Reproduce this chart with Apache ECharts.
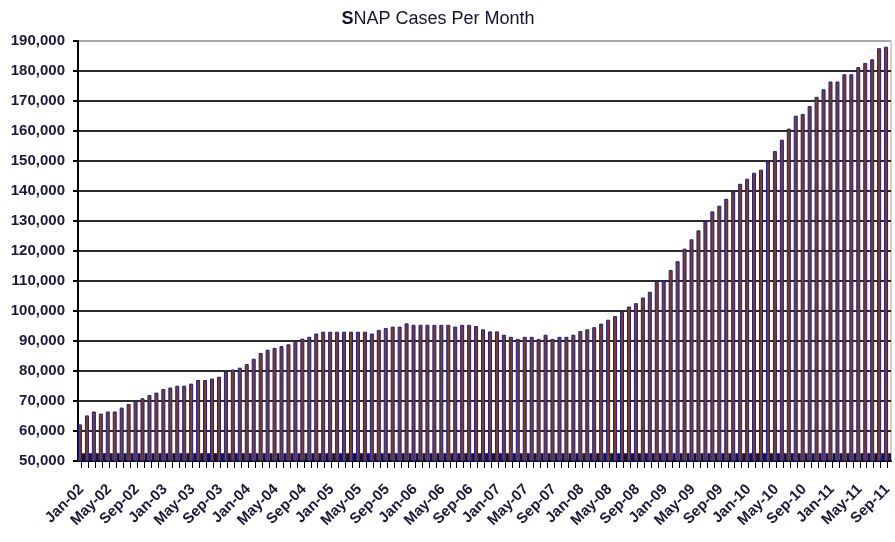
<!DOCTYPE html>
<html>
<head>
<meta charset="utf-8">
<script src="https://cdn.jsdelivr.net/npm/echarts@6/dist/echarts.min.js"></script>
<style>
  html, body { margin: 0; padding: 0; background: #fff; }
  #snapChart { width: 895px; height: 542px; }
</style>
</head>
<body>
<div id="snapChart"></div>
<script>
// month labels Jan-02 .. Sep-11
var monthNames = ["Jan", "Feb", "Mar", "Apr", "May", "Jun", "Jul", "Aug", "Sep", "Oct", "Nov", "Dec"];
var yearLabels = ["02", "03", "04", "05", "06", "07", "08", "09", "10", "11"];

// SNAP cases
var snapCases = [
  62200, 65200, 66500, 65800, 66500, 66500, 67800, 69000, 69900, 70900, 72000, 72800, // 2002
  74000, 74500, 75100, 75100, 75800, 77000, 77000, 77500, 78100, 79900, 80500, 81100, // 2003
  82300, 84100, 86000, 87100, 87700, 88300, 88900, 90000, 90800, 91400, 92500, 93100, // 2004
  93100, 93100, 93100, 93100, 93100, 93100, 92500, 93700, 94300, 94800, 94800, 95900, // 2005
  95400, 95400, 95400, 95400, 95400, 95400, 94800, 95400, 95400, 95000, 93900, 93200, // 2006
  93200, 92100, 91400, 90700, 91400, 91400, 90700, 92100, 90700, 91400, 91400, 92100, // 2007
  93300, 93900, 94600, 95800, 97100, 98300, 99700, 101500, 102600, 104500, 106400, 109900, // 2008
  109900, 113700, 116600, 120800, 123900, 126900, 129900, 133200, 135100, 137400, 139900, 142400, // 2009
  144100, 146100, 147100, 149900, 153300, 157100, 160800, 165100, 165700, 168300, 171400, 173900, // 2010
  176500, 176500, 178900, 178900, 181300, 182700, 183900, 187600, 188100 // 2011
];

// the short dark stubs standing next to each bar at the base
var baseStubs = [
  52600, 52600, 52600, 52600, 52600, 52600, 52600, 52600, 52600, 52600, 52600, 52600,
  52600, 52600, 52600, 52600, 52600, 52600, 52600, 52600, 52600, 52600, 52600, 52600,
  52600, 52600, 52600, 52600, 52600, 52600, 52600, 52600, 52600, 52600, 52600, 52600,
  52600, 52600, 52600, 52600, 52600, 52600, 52600, 52600, 52600, 52600, 52600, 52600,
  52600, 52600, 52600, 52600, 52600, 52600, 52600, 52600, 52600, 52600, 52600, 52600,
  52600, 52600, 52600, 52600, 52600, 52600, 52600, 52600, 52600, 52600, 52600, 52600,
  52600, 52600, 52600, 52600, 52600, 52600, 52600, 52600, 52600, 52600, 52600, 52600,
  52600, 52600, 52600, 52600, 52600, 52600, 52600, 52600, 52600, 52600, 52600, 52600,
  52600, 52600, 52600, 52600, 52600, 52600, 52600, 52600, 52600, 52600, 52600, 52600,
  52600, 52600, 52600, 52600, 52600, 52600, 52600, 52600, 52600
];

var yMin = 50000;
var yMax = 190000;
var yStep = 10000;

var categories = [];
for (var y = 0; y < yearLabels.length; y++) {
  for (var m = 0; m < 12; m++) {
    if (categories.length < snapCases.length) {
      categories.push(monthNames[m] + "-" + yearLabels[y]);
    }
  }
}

var labelFont = '"Liberation Sans", Arial, sans-serif';

// grid line colours: dark lines, top one is the light plot border
var gridColors = [];
for (var g = yMin; g <= yMax; g += yStep) {
  gridColors.push(g === yMax ? "#a8a8a8" : "#2b2b2b");
}

var snapChart = echarts.init(document.getElementById("snapChart"));
var option = {
  backgroundColor: "#ffffff",
  animation: false,
  title: {
    text: "{b|S}NAP Cases Per Month",
    left: 433,
    top: 5,
    textAlign: "center",
    textStyle: {
      fontFamily: labelFont,
      fontSize: 18,
      fontWeight: "normal",
      color: "#141430",
      rich: {
        b: {
          fontFamily: labelFont,
          fontSize: 18,
          fontWeight: "bold",
          color: "#141430",
        },
      },
    },
  },
  grid: {
    left: 78,
    right: 2,
    top: 41,
    bottom: 81,
    show: true,
    borderColor: "#a8a8a8",
    borderWidth: 1,
  },
  xAxis: {
    type: "category",
    data: categories,
    boundaryGap: true,
    axisLine: {
      show: true,
      lineStyle: { color: "#000", width: 2 },
    },
    axisTick: {
      show: true,
      interval: 0,
      alignWithLabel: true,
      length: 7,
      lineStyle: { color: "#000", width: 1 },
    },
    axisLabel: {
      interval: 3,
      rotate: 45,
      margin: 26,
      fontFamily: labelFont,
      fontSize: 15,
      fontWeight: "bold",
      color: "#1a1a3a",
    },
    splitLine: { show: false },
  },
  yAxis: {
    type: "value",
    min: yMin,
    max: yMax,
    interval: yStep,
    axisLine: {
      show: true,
      lineStyle: { color: "#000", width: 2 },
    },
    axisTick: {
      show: true,
      length: 5,
      lineStyle: { color: "#000", width: 2 },
    },
    axisLabel: {
      margin: 13,
      fontFamily: labelFont,
      fontSize: 15,
      fontWeight: "bold",
      color: "#1a1a3a",
      formatter: function (v) {
        return v.toLocaleString("en-US");
      },
    },
    splitLine: {
      show: true,
      lineStyle: { color: gridColors, width: 2 },
    },
  },
  series: [
    {
      name: "SNAP Cases",
      type: "bar",
      data: snapCases,
      barWidth: 4,
      barGap: "0%",
      itemStyle: {
        color: "#7e3c22",
        borderColor: "#1e1e8e",
        borderWidth: 1,
      },
    },
    {
      name: "base",
      type: "bar",
      data: baseStubs,
      barWidth: 3,
      itemStyle: {
        color: "#12124a",
      },
    },
  ],
};
snapChart.setOption(option);
</script>
</body>
</html>
